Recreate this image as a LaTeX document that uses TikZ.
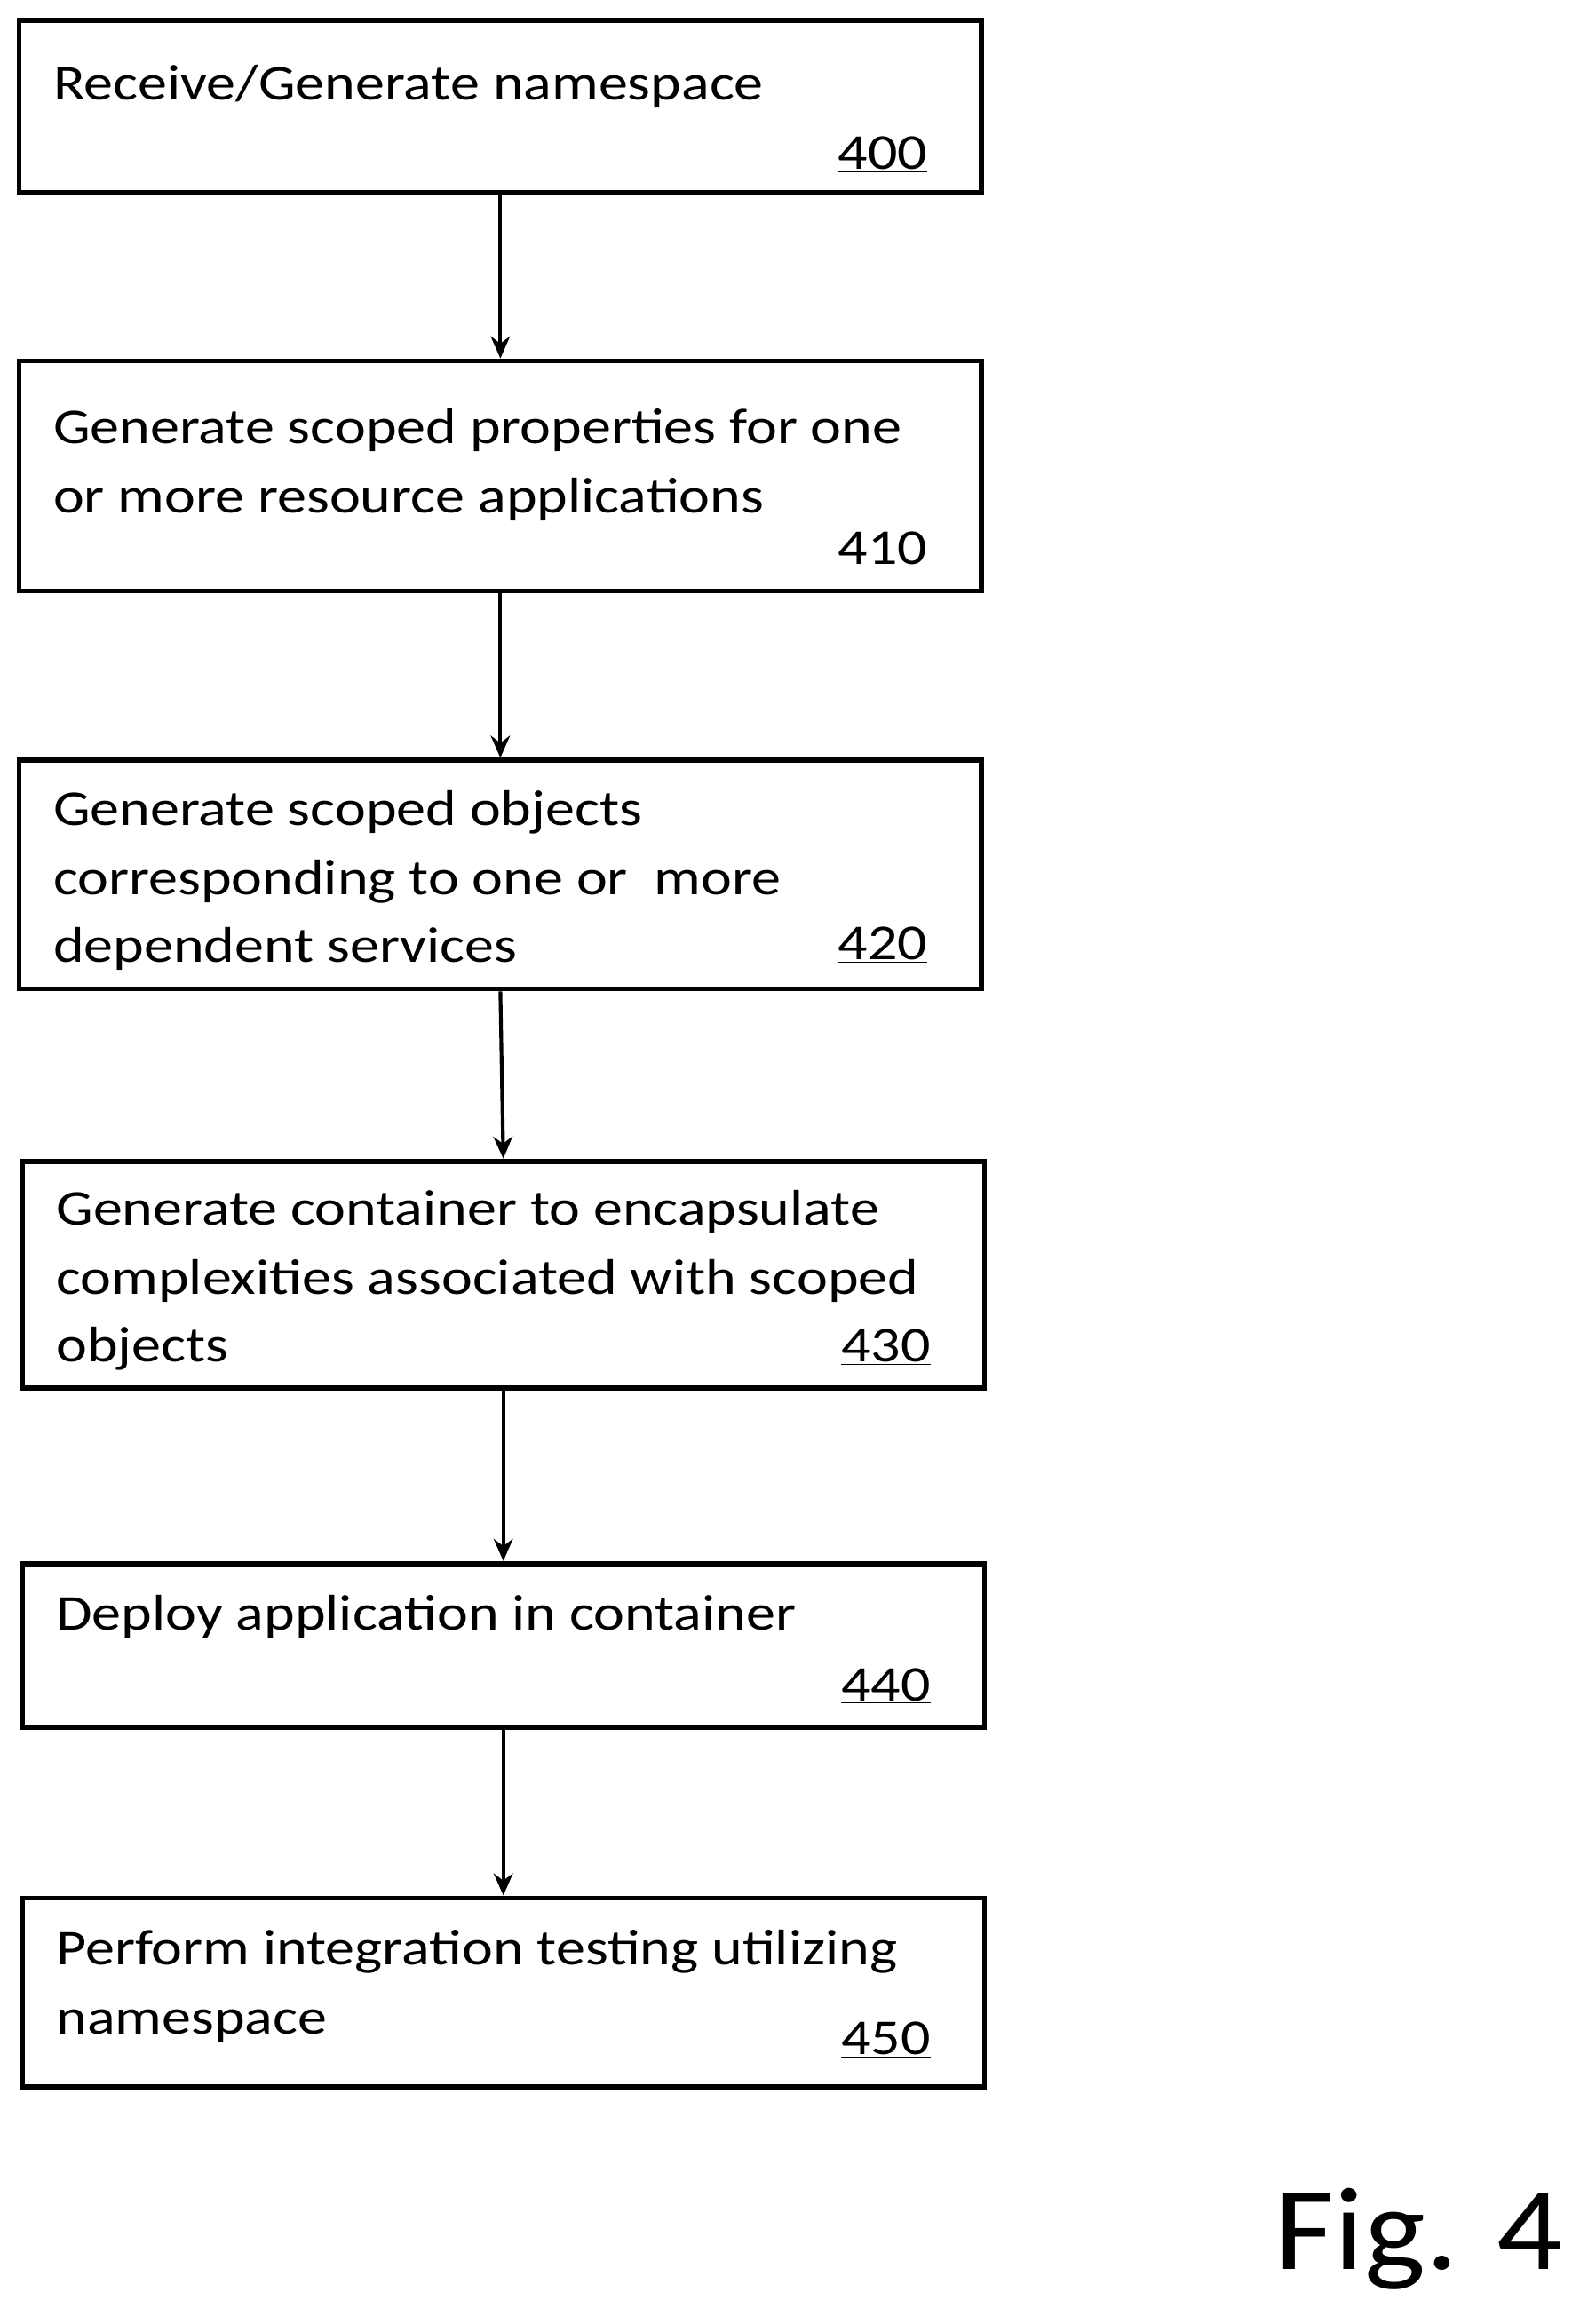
\documentclass[tikz,border=0pt]{standalone}
\usepackage{fontspec}
\setmainfont{Carlito}
\newfontfamily\wide[FakeStretch=1.17]{Carlito}
\newfontfamily\figf[FakeStretch=1.1]{Carlito}
\usetikzlibrary{arrows.meta}
\begin{document}
\begin{tikzpicture}[x=1pt,y=-1pt,
  box/.style={draw,line width=3.5pt,inner sep=0,rectangle},
  txt/.style={anchor=base west,inner sep=0,font=\wide\fontsize{34}{40}\selectfont},
  num/.style={anchor=base,inner sep=0,font=\wide\fontsize{34}{40}\selectfont},
  arr/.style={line width=2.5pt,-{Stealth[length=15pt,width=13pt]}}]
\useasboundingbox (0,0) rectangle (1072,1577);
\newcommand{\bx}[5]{\node[box,minimum width=#3-#2,minimum height=#5-#4] (#1) at ({(#2+#3)/2},{(#4+#5)/2}) {};}
\bx{b400}{13}{666}{14}{131}
\bx{b410}{13}{666}{245}{401}
\bx{b420}{13}{666}{516}{671}
\bx{b430}{15}{668}{788}{942}
\bx{b440}{15}{668}{1061}{1172}
\bx{b450}{15}{668}{1288}{1416}
\node[txt] (t400) at (36,68) {Receive/Generate namespace};
\node[num] (n400) at (599,115) {\underline{400}};
\node[txt] (t410a) at (36,301) {Generate scoped properties for one};
\node[txt] (t410b) at (36,348) {or more resource applications};
\node[num] (n410) at (599,383) {\underline{410}};
\node[txt] (t420a) at (36,560) {Generate scoped objects};
\node[txt] (t420b) at (36,607) {corresponding to one or\ \ more};
\node[txt] (t420c) at (36,653) {dependent services};
\node[num] (n420) at (599,651) {\underline{420}};
\node[txt] (t430a) at (38,831) {Generate container to encapsulate};
\node[txt] (t430b) at (38,878) {complexities associated with scoped};
\node[txt] (t430c) at (38,924) {objects};
\node[num] (n430) at (601,924) {\underline{430}};
\node[txt] (t440) at (38,1106) {Deploy application in container};
\node[num] (n440) at (601,1154) {\underline{440}};
\node[txt] (t450a) at (38,1333) {Perform integration testing utilizing};
\node[txt] (t450b) at (38,1380) {namespace};
\node[num] (n450) at (601,1394) {\underline{450}};
\node[anchor=base west,inner sep=0,font=\figf\fontsize{80}{90}\selectfont] (fig) at (865,1540) {Fig. 4};
\draw[arr] (b400.south) -- (b410.north);
\draw[arr] (b410.south) -- (b420.north);
\draw[arr] (b420.south) -- (b430.north);
\draw[arr] (b430.south) -- (b440.north);
\draw[arr] (b440.south) -- (b450.north);
\end{tikzpicture}
\end{document}
